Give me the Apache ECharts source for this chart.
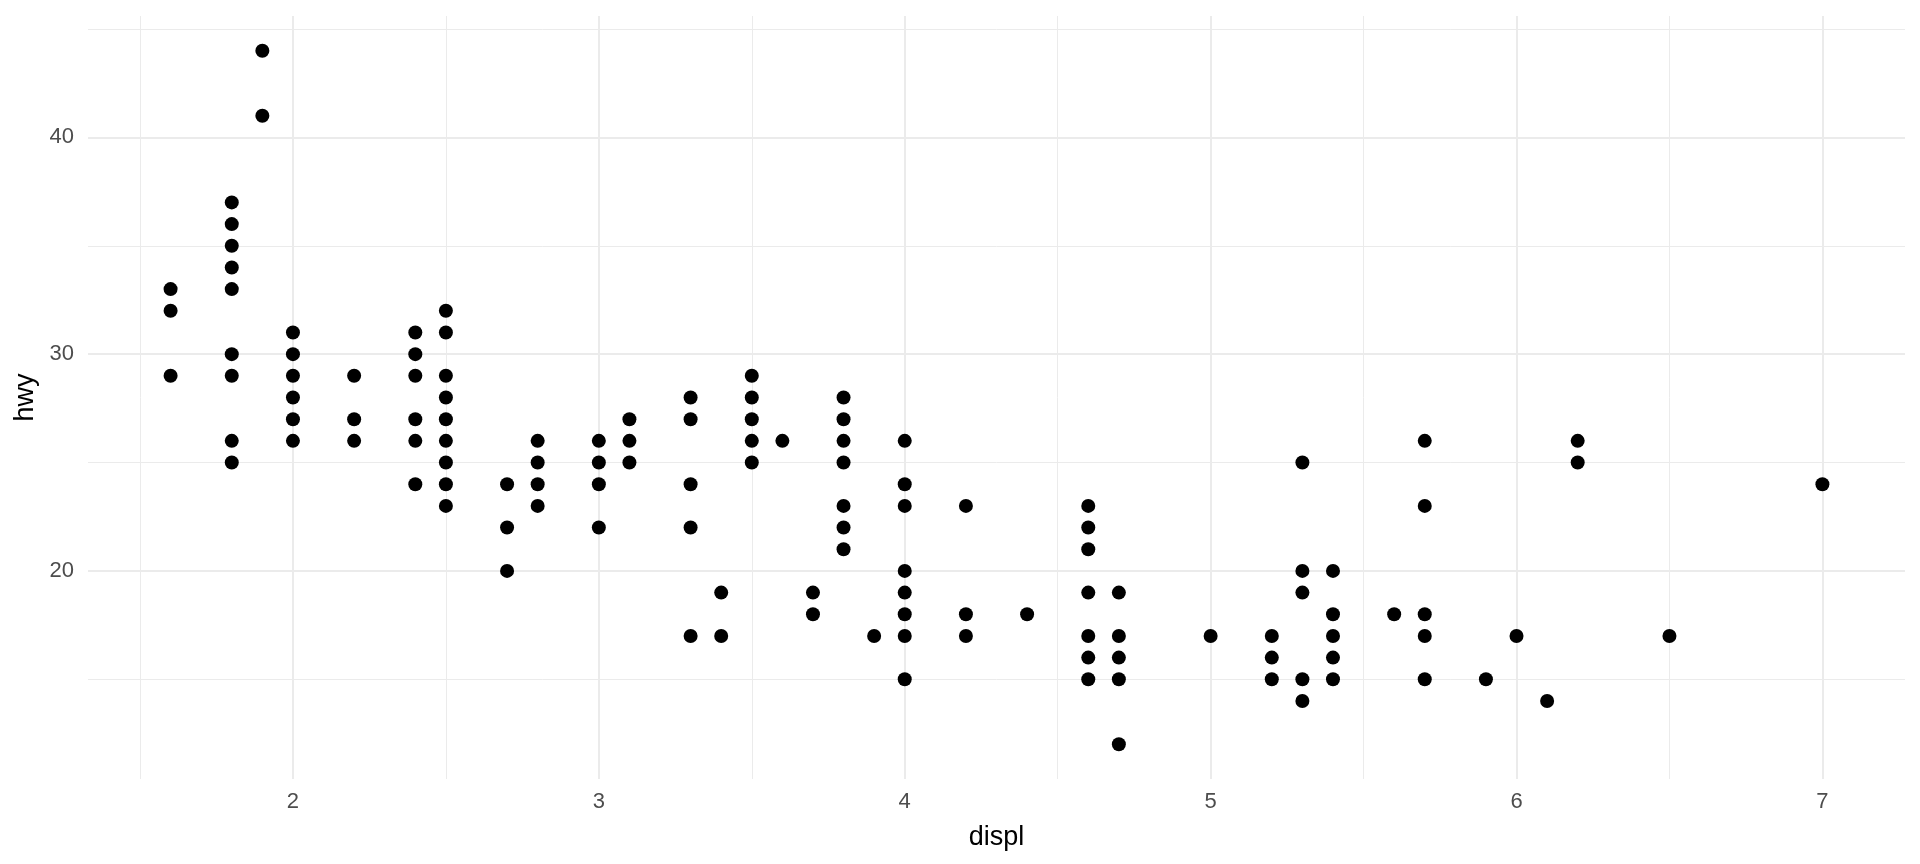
<!DOCTYPE html>
<html>
<head>
<meta charset="utf-8">
<script src="https://cdn.jsdelivr.net/npm/echarts@6/dist/echarts.min.js"></script>
<style>
  html, body { margin: 0; padding: 0; background: #fff; }
  #chart { width: 1920px; height: 864px; }
</style>
</head>
<body>
<div id="chart"></div>
<script>
// engine displacement (litres) and the highway mpg values seen at each one
const displ = [1.6, 1.8, 1.9, 2.0, 2.2, 2.4, 2.5, 2.7, 2.8, 3.0, 3.1, 3.3, 3.4, 3.5, 3.6, 3.7, 3.8, 3.9,
  4.0, 4.2, 4.4, 4.6, 4.7, 5.0, 5.2, 5.3, 5.4, 5.6, 5.7, 5.9, 6.0, 6.1, 6.2, 6.5, 7.0]
const hwy = [
  [33, 32, 29],
  [37, 36, 35, 34, 33, 30, 29, 26, 25],
  [44, 41],
  [31, 30, 29, 28, 27, 26],
  [29, 27, 26],
  [31, 30, 29, 27, 26, 24],
  [32, 31, 29, 28, 27, 26, 25, 24, 23],
  [24, 22, 20],
  [26, 25, 24, 23],
  [26, 25, 24, 22],
  [27, 26, 25],
  [28, 27, 24, 22, 17],
  [19, 17],
  [29, 28, 27, 26, 25],
  [26],
  [19, 18],
  [28, 27, 26, 25, 23, 22, 21],
  [17],
  [26, 24, 23, 20, 19, 18, 17, 15],
  [23, 18, 17],
  [18],
  [23, 22, 21, 19, 17, 16, 15],
  [19, 17, 16, 15, 12],
  [17],
  [17, 16, 15],
  [25, 20, 19, 15, 14],
  [20, 18, 17, 16, 15],
  [18],
  [26, 23, 18, 17, 15],
  [15],
  [17],
  [14],
  [26, 25],
  [17],
  [24],
]

const xTicks = [2, 3, 4, 5, 6, 7]
const xMinor = [1.5, 2.5, 3.5, 4.5, 5.5, 6.5]
const yTicks = [20, 30, 40]
const yMinor = [15, 25, 35, 45]

const points = []
displ.forEach((d, i) => hwy[i].forEach((h) => points.push([d, h])))

// ggplot-style 5% padding on each side
const xMin = 1.6 - 0.05 * 5.4
const xMax = 7.0 + 0.05 * 5.4
const yMin = 12 - 0.05 * 32
const yMax = 44 + 0.05 * 32

const gridColor = '#EBEBEB'
const hidden = { show: false }

const chart = echarts.init(document.getElementById('chart'))
chart.setOption({
  animation: false,
  backgroundColor: '#fff',
  grid: { left: 88, right: 15, top: 16, bottom: 85 },
  xAxis: [
    {
      type: 'value',
      min: xMin,
      max: xMax,
      name: 'displ',
      nameLocation: 'middle',
      nameGap: 45,
      nameTextStyle: { fontFamily: 'Liberation Sans', fontSize: 27, color: '#000' },
      axisLine: hidden,
      axisTick: { show: false, customValues: xTicks },
      axisLabel: {
        customValues: xTicks,
        margin: 12,
        fontFamily: 'Liberation Sans',
        fontSize: 22,
        color: '#4D4D4D',
      },
      splitLine: { show: true, lineStyle: { color: gridColor, width: 2 } },
    },
    {
      type: 'value',
      min: xMin,
      max: xMax,
      axisLine: hidden,
      axisTick: { show: false, customValues: xMinor },
      axisLabel: { show: false, customValues: xMinor },
      splitLine: { show: true, lineStyle: { color: gridColor, width: 1 } },
    },
  ],
  yAxis: [
    {
      type: 'value',
      min: yMin,
      max: yMax,
      name: 'hwy',
      nameLocation: 'middle',
      nameGap: 47,
      nameTextStyle: { fontFamily: 'Liberation Sans', fontSize: 27, color: '#000' },
      axisLine: hidden,
      axisTick: { show: false, customValues: yTicks },
      axisLabel: {
        customValues: yTicks,
        margin: 14,
        fontFamily: 'Liberation Sans',
        fontSize: 22,
        color: '#4D4D4D',
      },
      splitLine: { show: true, lineStyle: { color: gridColor, width: 2 } },
    },
    {
      type: 'value',
      min: yMin,
      max: yMax,
      axisLine: hidden,
      axisTick: { show: false, customValues: yMinor },
      axisLabel: { show: false, customValues: yMinor },
      splitLine: { show: true, lineStyle: { color: gridColor, width: 1 } },
    },
  ],
  series: [
    {
      type: 'scatter',
      data: points,
      symbol: 'circle',
      symbolSize: 14,
      itemStyle: { color: '#000', opacity: 1 },
    },
  ],
})
</script>
</body>
</html>
